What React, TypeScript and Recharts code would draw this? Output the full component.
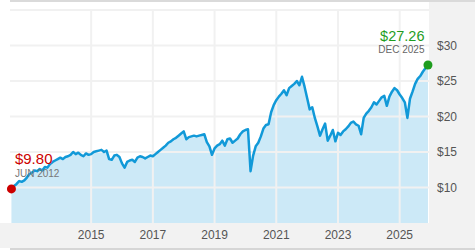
import {
  ComposedChart,
  Area,
  Line,
  XAxis,
  YAxis,
  ReferenceLine,
  ReferenceDot,
} from "recharts";

// monthly closing price, Jun 2012 .. Dec 2025
const startYear = 2012;
const startMonth = 6;
const prices = [
  // 2012 (Jun-Dec)
  9.8, 10.2, 10.5, 10.9, 10.8, 11.0, 11.4,
  // 2013
  11.9, 12.1, 12.4, 12.3, 12.6, 12.4, 12.9, 12.8, 13.3, 13.6, 13.8, 14.0,
  // 2014
  14.2, 14.0, 14.3, 14.4, 14.6, 15.0, 14.7, 14.9, 14.6, 14.4, 14.8, 14.6,
  // 2015
  14.7, 15.0, 15.1, 15.2, 15.3, 15.0, 15.2, 14.0, 13.9, 14.5, 14.6, 14.3,
  // 2016
  13.4, 12.8, 13.6, 13.8, 13.9, 13.6, 14.2, 14.4, 14.3, 14.1, 14.3, 14.5,
  // 2017
  14.4, 14.7, 15.0, 15.3, 15.6, 15.9, 16.3, 16.5, 16.8, 17.0, 17.3, 17.6,
  // 2018
  17.9, 16.8, 17.1, 17.2, 17.3, 17.2, 17.3, 17.4, 17.5, 16.4, 15.8, 14.6,
  // 2019
  15.5, 15.9, 16.1, 16.6, 15.9, 16.8, 16.9, 16.3, 16.6, 16.9, 17.5, 17.9,
  // 2020
  18.1, 18.2, 12.3, 14.5, 15.8, 16.3, 17.2, 18.3, 18.8, 18.9, 20.6, 21.6,
  // 2021
  22.3, 22.8, 23.2, 23.7, 23.0, 24.0, 24.3, 24.6, 25.0, 24.4, 25.6, 24.2,
  // 2022
  22.6, 21.0, 21.3, 19.8, 18.6, 17.3, 18.2, 19.0, 16.6, 17.3, 18.1, 16.5,
  // 2023
  17.7, 17.4, 17.9, 18.2, 18.6, 19.1, 19.3, 18.9, 18.7, 17.5, 19.8, 20.4,
  // 2024
  20.8, 21.3, 22.0, 21.7, 22.2, 22.7, 22.9, 21.5, 22.8, 23.5, 24.0, 23.7,
  // 2025
  23.1, 22.6, 22.0, 19.8, 22.5, 23.5, 24.6, 25.3, 25.7, 26.3, 26.8, 27.26,
];

const yearTicks = [2015, 2017, 2019, 2021, 2023, 2025];
const priceTicks = [10, 15, 20, 25, 30];
const gridPrices = [10, 15, 20, 25, 30, 35];

const firstLabel = { price: "$9.80", date: "JUN 2012" };
const lastLabel = { price: "$27.26", date: "DEC 2025" };

const data = prices.map((price, i) => ({
  t: startYear + (startMonth - 1 + i) / 12,
  price,
}));
const first = data[0];
const last = data[data.length - 1];

const font = "'Liberation Sans', Arial, sans-serif";
const lineColor = "#1199d8";
const fillColor = "#cce9f7";
const gridColor = "#f1f1f1";

export default function App() {
  return (
    <div
      style={{
        position: "absolute",
        left: 0,
        top: 0,
        width: 475,
        height: 250,
        background: "#fff",
        fontFamily: font,
      }}
    >
      {/* chrome: top rule, right axis panel, bottom axis band, bottom rule */}
      <div style={{ position: "absolute", left: 10, top: 0, width: 465, height: 2, background: "#dadada" }} />
      <div style={{ position: "absolute", left: 429, top: 2, width: 46, height: 246, background: "#f2f2f2" }} />
      <div style={{ position: "absolute", left: 0, top: 223, width: 475, height: 25, background: "#f2f2f2" }} />
      <div style={{ position: "absolute", left: 10, top: 248, width: 465, height: 2, background: "#d6d6d6" }} />

      <div style={{ position: "absolute", left: 0, top: 0 }}>
        <ComposedChart
          width={475}
          height={250}
          data={data}
          margin={{ top: 10, right: 0, bottom: 0, left: 10 }}
        >
          <XAxis
            dataKey="t"
            type="number"
            domain={[2012.37, 2025.95]}
            ticks={yearTicks}
            allowDataOverflow
            axisLine={false}
            tickLine={false}
            tickSize={0}
            tickMargin={7}
            height={27}
            tick={{ fill: "#555", fontSize: 12, fontFamily: font }}
          />
          <YAxis
            orientation="right"
            type="number"
            domain={[5, 35]}
            ticks={priceTicks}
            allowDataOverflow
            axisLine={false}
            tickLine={false}
            tickSize={0}
            tickMargin={8}
            width={46}
            tickFormatter={(v: number) => `$${v}`}
            tick={{ fill: "#555", fontSize: 12, fontFamily: font, textAnchor: "start" }}
          />
          <Area
            dataKey="price"
            type="linear"
            stroke="none"
            fill={fillColor}
            fillOpacity={1}
            baseValue={5}
            isAnimationActive={false}
            zIndex={100}
          />
          {yearTicks.map((y) => (
            <ReferenceLine key={"x" + y} x={y} stroke={gridColor} strokeWidth={2} zIndex={150} />
          ))}
          {gridPrices.map((p) => (
            <ReferenceLine key={"y" + p} y={p} stroke={gridColor} strokeWidth={2} zIndex={150} />
          ))}
          <Line
            dataKey="price"
            type="linear"
            stroke={lineColor}
            strokeWidth={2.5}
            strokeLinejoin="round"
            dot={false}
            activeDot={false}
            isAnimationActive={false}
            zIndex={400}
          />
          <ReferenceDot
            x={first.t}
            y={first.price}
            r={4.5}
            zIndex={600}
            shape={(p: any) => (
              <g>
                <circle cx={p.cx} cy={p.cy} r={4.5} fill="#cc0000" />
                <text x={p.cx + 3.5} y={p.cy - 24.5} fill="#cc0000" fontSize={15} fontFamily={font}>
                  {firstLabel.price}
                </text>
                <text x={p.cx + 3.5} y={p.cy - 11.5} fill="#777" fontSize={10} fontFamily={font}>
                  {firstLabel.date}
                </text>
              </g>
            )}
          />
          <ReferenceDot
            x={last.t}
            y={last.price}
            r={4.5}
            zIndex={600}
            shape={(p: any) => (
              <g>
                <circle cx={p.cx} cy={p.cy} r={4.5} fill="#1f9d1f" />
                <text x={p.cx - 3.5} y={p.cy - 24.3} fill="#1f9d1f" fontSize={14.5} fontFamily={font} textAnchor="end">
                  {lastLabel.price}
                </text>
                <text x={p.cx - 3.5} y={p.cy - 11.6} fill="#666" fontSize={10} fontFamily={font} textAnchor="end">
                  {lastLabel.date}
                </text>
              </g>
            )}
          />
        </ComposedChart>
      </div>
    </div>
  );
}
